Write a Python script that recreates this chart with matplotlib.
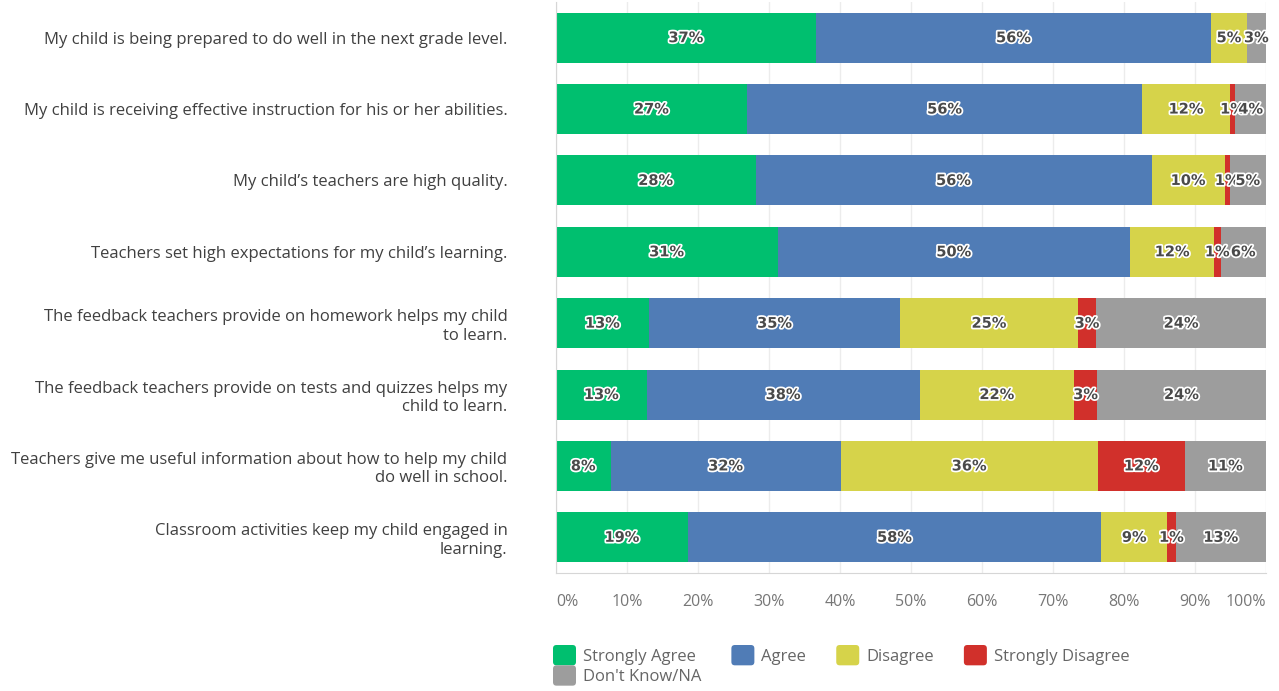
import numpy as np
import matplotlib.pyplot as plt
import matplotlib.patheffects as pe
from matplotlib.patches import Patch, FancyBboxPatch
from matplotlib.legend_handler import HandlerPatch

questions = [
    'My child is being prepared to do well in the next grade level.',
    'My child is receiving effective instruction for his or her abilities.',
    'My child\u2019s teachers are high quality.',
    'Teachers set high expectations for my child\u2019s learning.',
    'The feedback teachers provide on homework helps my child\nto learn.',
    'The feedback teachers provide on tests and quizzes helps my\nchild to learn.',
    'Teachers give me useful information about how to help my child\ndo well in school.',
    'Classroom activities keep my child engaged in\nlearning.',
]

# percentages per answer, one value per question
strongly_agree = [36.6, 26.9, 28.1, 31.2, 13.1, 12.8, 7.7, 18.6]
agree = [55.7, 55.7, 55.8, 49.7, 35.4, 38.4, 32.4, 58.2]
disagree = [5.0, 12.3, 10.3, 11.8, 25.0, 21.8, 36.2, 9.3]
strongly_disagree = [0.0, 0.8, 0.7, 0.9, 2.6, 3.2, 12.3, 1.2]
dont_know = [2.7, 4.3, 5.1, 6.4, 23.9, 23.8, 11.4, 12.7]

series_names = ['Strongly Agree', 'Agree', 'Disagree', 'Strongly Disagree', "Don't Know/NA"]
colors = ['#00bf6f', '#507cb6', '#d6d34a', '#d1302b', '#9d9d9d']
x_ticks = [0, 10, 20, 30, 40, 50, 60, 70, 80, 90, 100]

series = [strongly_agree, agree, disagree, strongly_disagree, dont_know]

fig = plt.figure(figsize=(12.79, 6.91), dpi=100)
ax = fig.add_axes([556 / 1279, 1 - 573 / 691, 710 / 1279, 571 / 691])

y = np.arange(len(questions))
left = np.zeros(len(questions))
halo = [pe.withStroke(linewidth=2.5, foreground='white')]
for name, vals, col in zip(series_names, series, colors):
    vals = np.array(vals)
    ax.barh(y, vals, left=left, height=0.70, color=col, label=name, zorder=2)
    for yi, (l, v) in enumerate(zip(left, vals)):
        if v > 0:
            ax.text(l + v / 2, yi, f'{round(v)}%', ha='center', va='center',
                    fontsize=10.5, fontweight='bold', color='#4a4a4a',
                    family='DejaVu Sans', path_effects=halo, zorder=3)
    left += vals

ax.set_xlim(0, 100)
ax.set_ylim(7.5, -0.5)
ax.set_xticks(x_ticks)
ax.set_xticklabels([f'{t}%' for t in x_ticks])
ax.grid(axis='x', color='#ececec', linewidth=1, zorder=0)
ax.tick_params(axis='x', length=0, pad=15, labelsize=11.5, labelcolor='#777777')
tl = ax.get_xticklabels()
tl[0].set_ha('left')
tl[-1].set_ha('right')
for t in tl:
    t.set_family('Open Sans')

ax.set_yticks(y)
ax.set_yticklabels(questions, fontsize=12, color='#404040', family='Open Sans')
ax.tick_params(axis='y', length=0, pad=35)

for s in ['top', 'right']:
    ax.spines[s].set_visible(False)
for s in ['left', 'bottom']:
    ax.spines[s].set_color('#d6d6d6')


def rounded_square(legend, orig_handle, xdescent, ydescent, width, height, fontsize):
    return FancyBboxPatch((-xdescent, -ydescent), width, height,
                          boxstyle='round,pad=0,rounding_size=2.5')


handles = [Patch(facecolor=c, edgecolor='none', label=n) for n, c in zip(series_names, colors)]
order = [0, 4, 1, 2, 3]
leg = fig.legend([handles[i] for i in order], [series_names[i] for i in order],
                 loc='upper left', bbox_to_anchor=(553 / 1279, 1 - 645 / 691),
                 ncol=4, frameon=False, borderpad=0, borderaxespad=0,
                 handlelength=1.38, handleheight=1.5, handletextpad=0.42,
                 columnspacing=1.8, labelspacing=0.0,
                 handler_map={Patch: HandlerPatch(patch_func=rounded_square)},
                 prop={'family': 'Open Sans', 'size': 12})
for t in leg.get_texts():
    t.set_color('#666666')

fig.savefig('out.png', dpi=100)
